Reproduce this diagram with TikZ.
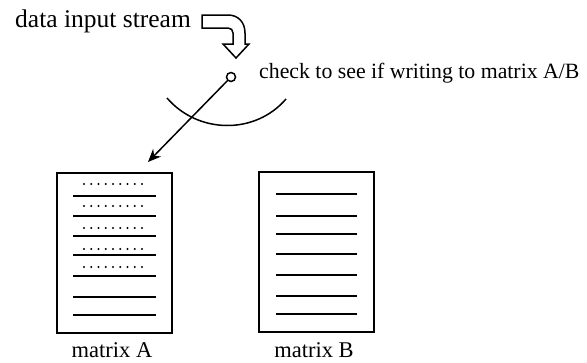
\documentclass[tikz,border=0pt]{standalone}
\usepackage{fontspec}
\setmainfont{Liberation Serif}
\usetikzlibrary{arrows.meta}
\begin{document}
\begin{tikzpicture}[x=1pt,y=-1pt,
  lbl/.style={inner sep=0pt, font=\fontsize{22.5}{24}\selectfont},
  sheet/.style={draw, line width=2pt, minimum width=115pt, minimum height=160pt, inner sep=0pt},
  rule/.style={line width=2pt},
  dotrow/.style={fill, radius=1.1pt},
  lead/.style={line width=1.5pt, -{Stealth[length=13pt,width=11pt]}}]
\useasboundingbox (0,0) rectangle (587,362);

% incoming data: hollow bent arrow
\node[lbl, anchor=base west, font=\fontsize{25.5}{27}\selectfont] (din) at (15,27) {data input stream};
\draw[line width=1.5pt, line join=miter]
  (202,15) -- (228,15) .. controls (238,15) and (245,22) .. (245,33)
  -- (245,44) -- (249,44) -- (236,58) -- (223,44) -- (233,44) -- (233,33)
  .. controls (233,30) and (231,28) .. (228,28) -- (202,28) -- cycle;

% switch point and its swing arc
\node[circle, draw, line width=1.5pt, minimum size=9pt, inner sep=0pt] (sw) at (231,77) {};
\node[lbl, anchor=base west, font=\fontsize{21.8}{24}\selectfont] (chk) at (259,78) {check to see if writing to matrix A/B};
\draw[line width=1.5pt] (167,98) .. controls (198,134) and (255,135) .. (286,99);

% the two matrices
\node[sheet] (ma) at (114.5,253) {};
\node[sheet] (mb) at (316,252) {};
\node[lbl, anchor=base] (la) at (112,357) {matrix A};
\node[lbl, anchor=base] (lb) at (314,357) {matrix B};

% write pointer into matrix A
\coordinate (atip) at (148,162);
\draw[lead] (sw) -- (atip);

% rows of matrix A: filled (dotted) rows above the ruled lines
\foreach \y in {196,216,236,255,276,297,315}
  \draw[rule] (73,\y) -- (156,\y);
\foreach \y in {184,206,228,249,267}
  \foreach \i in {0,...,8}
    \fill[dotrow] (84+7.25*\i,\y) circle;

% rows of matrix B
\foreach \y in {194,216,234,254,275,296,314}
  \draw[rule] (276,\y) -- (357,\y);
\end{tikzpicture}
\end{document}
